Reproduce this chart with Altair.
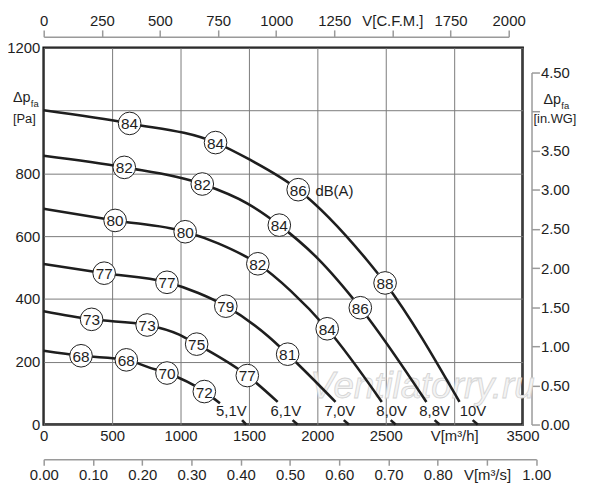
import altair as alt
import pandas as pd

FONT = "Liberation Sans"
INK = "#1e1e1e"

# control voltages, one fan curve each
VOLTS = ["5,1V", "6,1V", "7,0V", "8,0V", "8,8V", "10V"]

# airflow V [m3/h] and pressure dp_fa [Pa]
Q_51 = [0, 273, 604, 768, 901, 1174, 1288]
P_51 = [235, 219, 206, 182, 164, 105, 68]
Q_61 = [0, 350, 756, 986, 1118, 1488, 1710]
P_61 = [361, 335, 317, 287, 256, 156, 72]
Q_70 = [0, 442, 901, 1130, 1331, 1638, 1783, 2133]
P_70 = [511, 482, 453, 419, 377, 282, 224, 72]
Q_80 = [0, 522, 1034, 1275, 1565, 1807, 2072, 2471]
P_80 = [687, 650, 614, 577, 512, 425, 305, 72]
Q_88 = [0, 589, 1159, 1493, 1722, 2000, 2314, 2797]
P_88 = [856, 819, 766, 703, 635, 530, 372, 72]
Q_10 = [0, 628, 1256, 1500, 1860, 2362, 2495, 3039]
P_10 = [1001, 959, 898, 845, 748, 524, 451, 72]

# sound level marks dB(A) and which curve point they sit on
DB_51 = [68, 68, 70, 72]
DB_61 = [73, 73, 75, 77]
DB_70 = [77, 77, 79, 81]
DB_80 = [80, 80, 82, 84]
DB_88 = [82, 82, 84, 86]
DB_10 = [84, 84, 86, 88]
AT_51 = [1, 2, 4, 5]
AT_61 = [1, 2, 4, 5]
AT_OTHERS = [1, 2, 4, 6]

# short curve ends below the voltage labels
STUB_Q0 = [1450, 1819, 2193, 2536, 2857, 3135]
STUB_Q1 = [1480, 1855, 2230, 2572, 2893, 3172]
STUB_P = [14, 0]

# voltage label anchors
VOLT_Q = [1371, 1770, 2164, 2543, 2857, 3138]
VOLT_P = 42

# axis ticks
X_TICKS = [0, 500, 1000, 1500, 2000, 2500, 3000, 3500]
Y_TICKS = [0, 200, 400, 600, 800, 1000, 1200]
CFM_TICKS = [0, 250, 500, 750, 1000, 1250, 1500, 1750, 2000]
INWG_TICKS = [0.0, 0.5, 1.0, 1.5, 2.0, 2.5, 3.0, 3.5, 4.0, 4.5]
M3S_TICKS = [0.0, 0.1, 0.2, 0.3, 0.4, 0.5, 0.6, 0.7, 0.8, 0.9, 1.0]

W, H = 483, 380
PX_PER_M3H = W / 3500
PX_PER_PA = H / 1200

qs = [Q_51, Q_61, Q_70, Q_80, Q_88, Q_10]
ps = [P_51, P_61, P_70, P_80, P_88, P_10]
dbs = [DB_51, DB_61, DB_70, DB_80, DB_88, DB_10]
ats = [AT_51, AT_61, AT_OTHERS, AT_OTHERS, AT_OTHERS, AT_OTHERS]

curve_rows, stub_rows, circle_rows = [], [], []
for i, v in enumerate(VOLTS):
    for q, p in zip(qs[i], ps[i]):
        curve_rows.append({"volt": v, "q": q, "p": p})
    for q, p in zip([STUB_Q0[i], STUB_Q1[i]], STUB_P):
        stub_rows.append({"volt": v, "q": q, "p": p})
    for db, k in zip(dbs[i], ats[i]):
        circle_rows.append({"volt": v, "q": qs[i][k], "p": ps[i][k], "db": str(db)})

curves = pd.DataFrame(curve_rows)
stubs = pd.DataFrame(stub_rows)
circles = pd.DataFrame(circle_rows)
volt_labels = pd.DataFrame({"volt": VOLTS, "q": VOLT_Q, "p": [VOLT_P] * len(VOLTS)})

lab = dict(labelFont=FONT, labelFontSize=15, labelColor=INK, labelFlush=False,
           labelOverlap=False, labelBound=False, title=None)

x_main = alt.X(
    "q:Q",
    scale=alt.Scale(domain=[0, 3500], nice=False, zero=False),
    axis=alt.Axis(values=X_TICKS, format="d", domain=False, ticks=False,
                  grid=True, gridColor="#7a7a7a", gridWidth=1, labelPadding=4,
                  labelExpr="datum.value == 3000 ? 'V[m³/h]' : datum.label", **lab),
)
y_main = alt.Y(
    "p:Q",
    scale=alt.Scale(domain=[0, 1200], nice=False, zero=False),
    axis=alt.Axis(values=Y_TICKS, format="d", domain=False, ticks=False,
                  grid=True, gridColor="#7a7a7a", gridWidth=1, labelPadding=4,
                  labelExpr="datum.value == 1000 ? '' : datum.label", **lab),
)

watermark = alt.Chart(pd.DataFrame({"t": ["Ventilatorry.ru"], "q": [2768], "p": [120]})).mark_text(
    font=FONT, fontSize=37, fontStyle="italic", fill="#f3f3f3", stroke="#d4d4d4",
    strokeWidth=0.8, align="center", baseline="middle"
).encode(x=x_main, y=y_main, text="t:N")

curve_lines = alt.Chart(curves).mark_line(
    color=INK, strokeWidth=2.6, interpolate="monotone"
).encode(x=x_main, y=y_main, detail="volt:N", order="q:Q")

stub_lines = alt.Chart(stubs).mark_line(color=INK, strokeWidth=2.6).encode(
    x=x_main, y=y_main, detail="volt:N", order="q:Q"
)

circle_marks = alt.Chart(circles).mark_point(
    shape="circle", filled=True, fill="white", stroke=INK, strokeWidth=1,
    size=520, opacity=1
).encode(x=x_main, y=y_main)

circle_text = alt.Chart(circles).mark_text(
    font=FONT, fontSize=15.5, color=INK, align="center", baseline="middle", dy=1
).encode(x=x_main, y=y_main, text="db:N")

volt_text = alt.Chart(volt_labels).mark_text(
    font=FONT, fontSize=15, color=INK, align="center", baseline="middle"
).encode(x=x_main, y=y_main, text="volt:N")

dba_text = alt.Chart(pd.DataFrame({"t": ["dB(A)"], "q": [1986], "p": [748]})).mark_text(
    font=FONT, fontSize=15, color=INK, align="left", baseline="middle", dy=1
).encode(x=x_main, y=y_main, text="t:N")


def note(text, x, y, size):
    return alt.Chart(pd.DataFrame({"t": [text]})).mark_text(
        font=FONT, fontSize=size, color=INK, align="left", baseline="middle"
    ).encode(x=alt.value(x), y=alt.value(y), text="t:N")


notes = [
    note("Δp", -31, 51, 14.5), note("fa", -13, 57, 9.5), note("[Pa]", -31, 72, 13),
    note("Δp", 504, 53, 14.5), note("fa", 522, 59, 9.5), note("[in.WG]", 494, 72, 13),
]

main = alt.layer(watermark, curve_lines, stub_lines, circle_marks, circle_text,
                 volt_text, dba_text, *notes)

side = dict(domainColor="#9a9a9a", domainWidth=1.5, tickColor="#9a9a9a",
            tickWidth=1.5, grid=False)

cfm_layer = alt.Chart(pd.DataFrame({"cfm": CFM_TICKS})).mark_point(opacity=0).encode(
    x=alt.X("cfm:Q",
            scale=alt.Scale(domain=[0, 2000], range=[0, 2000 * 1.699 * PX_PER_M3H],
                            nice=False, zero=False),
            axis=alt.Axis(orient="top", offset=11, values=CFM_TICKS, format="d",
                          tickSize=7, labelPadding=1,
                          labelExpr="datum.value == 1500 ? 'V[C.F.M.]' : datum.label",
                          **side, **lab))
)

inwg_layer = alt.Chart(pd.DataFrame({"inwg": INWG_TICKS})).mark_point(opacity=0).encode(
    y=alt.Y("inwg:Q",
            scale=alt.Scale(domain=[0, 4.5], range=[H, H - 4.5 * 249.089 * PX_PER_PA],
                            nice=False, zero=False),
            axis=alt.Axis(orient="right", offset=9, values=INWG_TICKS, format=".2f",
                          tickSize=8, labelPadding=1,
                          labelExpr="datum.value == 4 ? '' : datum.label",
                          **side, **lab))
)

m3s_layer = alt.Chart(pd.DataFrame({"m3s": M3S_TICKS})).mark_point(opacity=0).encode(
    x=alt.X("m3s:Q",
            scale=alt.Scale(domain=[0, 1], range=[0, 3600 * PX_PER_M3H],
                            nice=False, zero=False),
            axis=alt.Axis(orient="bottom", offset=35, values=M3S_TICKS, format=".2f",
                          tickSize=6, labelPadding=2,
                          labelExpr="abs(datum.value - 0.9) < 0.001 ? 'V[m³/s]' : datum.label",
                          **side, **lab))
)

chart = (
    alt.layer(main, cfm_layer, inwg_layer, m3s_layer)
    .resolve_scale(x="independent", y="independent")
    .properties(
        width=W, height=H,
        autosize=alt.AutoSizeParams(type="none"),
        padding={"left": 36, "top": 38, "right": 70, "bottom": 70},
    )
    .configure_view(stroke="#111111", strokeWidth=2.6)
)

chart.save("out.html", embed_options={"renderer": "svg", "actions": False})
